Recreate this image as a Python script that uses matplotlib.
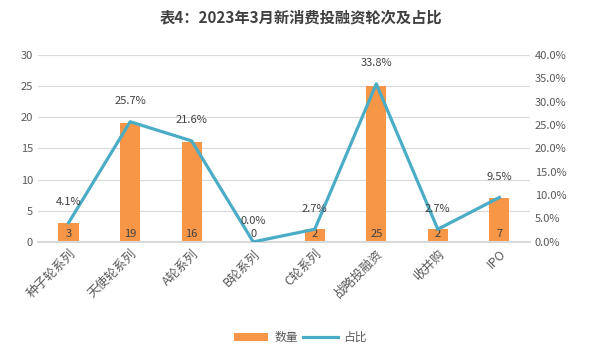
import matplotlib
matplotlib.use('Agg')
import matplotlib.pyplot as plt
import numpy as np

plt.rcParams['font.family'] = ['Noto Sans CJK SC', 'DejaVu Sans']

categories = ['种子轮系列', '天使轮系列', 'A轮系列', 'B轮系列', 'C轮系列', '战略投融资', '收并购', 'IPO']
counts = [3, 19, 16, 0, 2, 25, 2, 7]
shares = [4.1, 25.7, 21.6, 0.0, 2.7, 33.8, 2.7, 9.5]

bar_color = '#F79646'
line_color = '#4BACC6'
text_color = '#595959'

fig = plt.figure(figsize=(6.01, 3.61), dpi=100)
ax = fig.add_axes([0.063, 0.330, 0.819, 0.518])
ax2 = ax.twinx()

x = np.arange(len(categories))
ax.bar(x, counts, width=0.33, color=bar_color, zorder=2, label='数量')
ax2.plot(x, shares, color=line_color, lw=2.3, zorder=3, label='占比')

ax.set_ylim(0, 30)
ax.set_yticks(range(0, 31, 5))
ax2.set_ylim(0, 40)
ax2.set_yticks(range(0, 41, 5))
ax2.set_yticklabels([f'{v:.1f}%' for v in range(0, 41, 5)])
ax.set_xlim(-0.5, len(categories) - 0.5)

ax.grid(axis='y', color='#D9D9D9', lw=0.8, zorder=0)
for a in (ax, ax2):
    for s in a.spines.values():
        s.set_visible(False)
    a.tick_params(length=0, labelsize=8, colors=text_color)
ax.spines['bottom'].set_visible(True)
ax.spines['bottom'].set_color('#D9D9D9')
ax.spines['bottom'].set_linewidth(1.5)

ax.set_xticks(x)
ax.set_xticklabels(categories, rotation=45, ha='right', rotation_mode='anchor', fontsize=9)
ax.tick_params(axis='x', pad=4)

for xi, c in zip(x, counts):
    ax.text(xi, 1.2, str(c), ha='center', va='center', fontsize=8, color='#404040', zorder=4)
for xi, s in zip(x, shares):
    ax2.text(xi, s + 4.4, f'{s:.1f}%', ha='center', va='center', fontsize=8, color='#404040', zorder=4)

fig.suptitle('表4：2023年3月新消费投融资轮次及占比', y=0.975, fontsize=11,
             fontweight='bold', color='#404040')

h1, l1 = ax.get_legend_handles_labels()
h2, l2 = ax2.get_legend_handles_labels()
fig.legend(h1 + h2, l1 + l2, loc='center', bbox_to_anchor=(0.5, 0.065), ncol=2,
           frameon=False, fontsize=8.5, labelcolor=text_color, handlelength=2.9,
           handletextpad=0.5, columnspacing=0.5)

fig.savefig('out.png', dpi=100)
